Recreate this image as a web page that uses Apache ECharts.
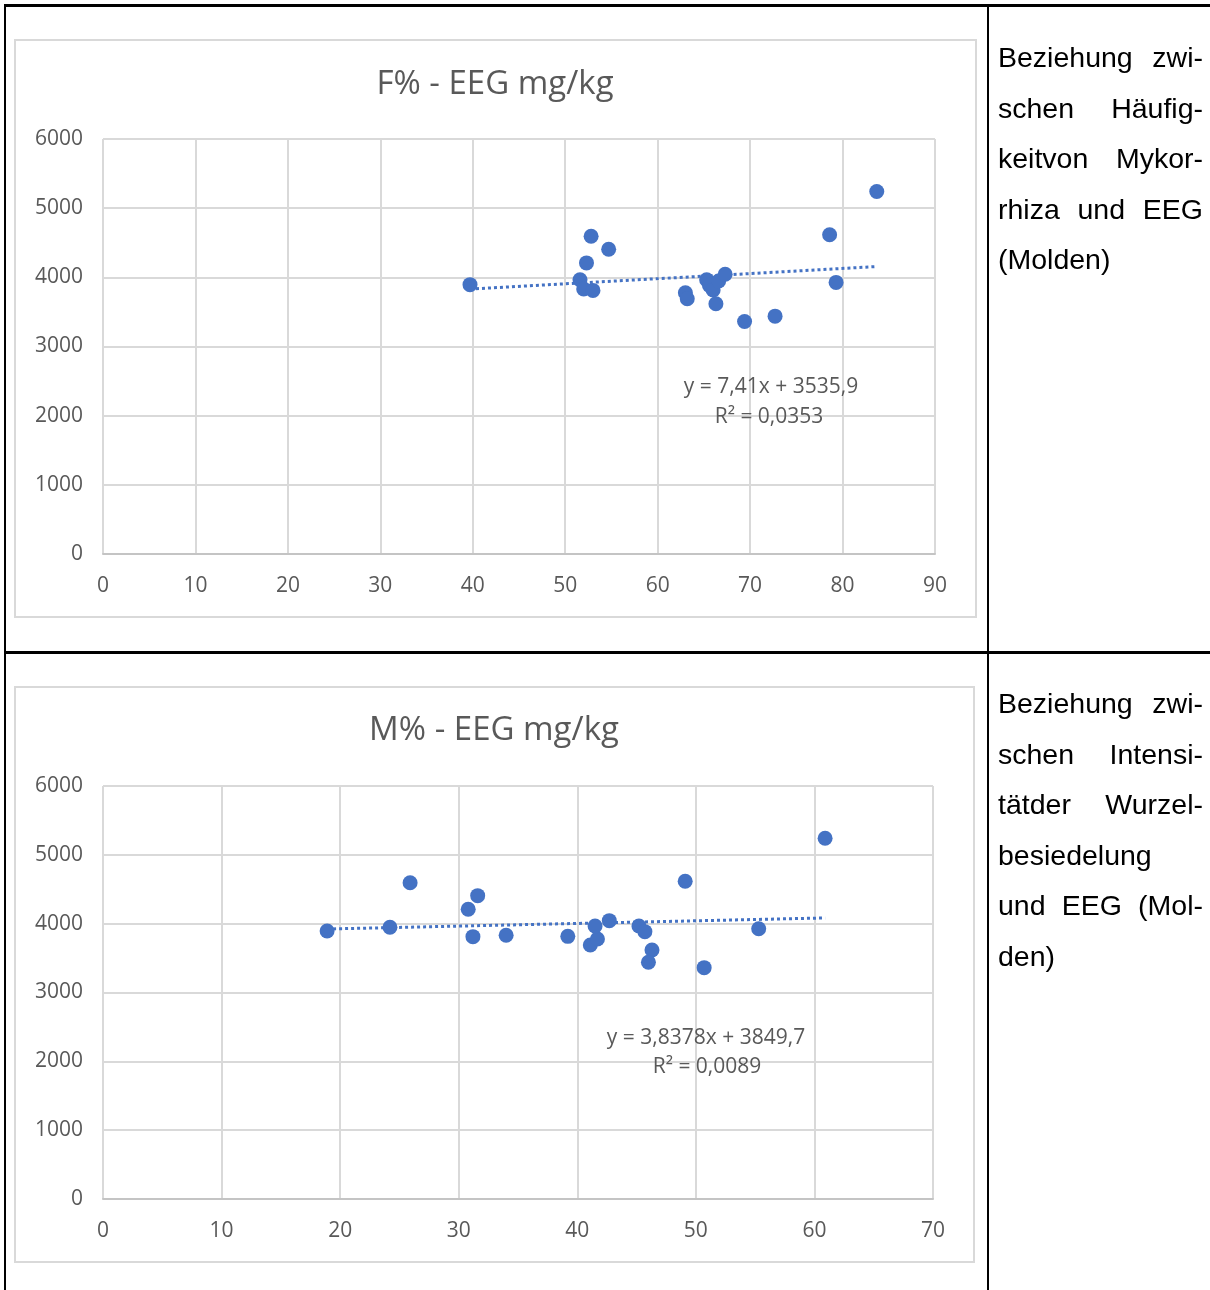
<!DOCTYPE html>
<html>
<head>
<meta charset="utf-8">
<script src="https://cdn.jsdelivr.net/npm/echarts@6/dist/echarts.min.js"></script>
<style>
html,body{margin:0;padding:0;background:#fff;}
#wrap{position:relative;width:1210px;height:1290px;overflow:hidden;}
#chart{position:absolute;left:0;top:0;width:1210px;height:1290px;}
.ln{position:absolute;background:#000;}
.txt{position:absolute;left:998px;width:205px;font-family:"Liberation Sans",Arial,sans-serif;font-size:28.5px;color:#000;}
.txt div{height:50.5px;line-height:50.5px;text-align:justify;text-align-last:justify;white-space:nowrap;}
.txt div.l{text-align:left;text-align-last:left;}
</style>
</head>
<body>
<div id="wrap">
<div id="chart"></div>
<div class="ln" style="left:4px;top:4px;width:1206px;height:3px;"></div>
<div class="ln" style="left:4px;top:4px;width:2px;height:1286px;"></div>
<div class="ln" style="left:987px;top:4px;width:2px;height:1286px;"></div>
<div class="ln" style="left:4px;top:651px;width:1206px;height:3px;"></div>
<div class="txt" style="top:32px;">
<div>Beziehung zwi-</div>
<div>schen Häufig-</div>
<div>keitvon Mykor-</div>
<div>rhiza und EEG</div>
<div class="l">(Molden)</div>
</div>
<div class="txt" style="top:678px;">
<div>Beziehung zwi-</div>
<div>schen Intensi-</div>
<div>tätder Wurzel-</div>
<div class="l">besiedelung</div>
<div>und EEG (Mol-</div>
<div class="l">den)</div>
</div>
</div>
<script>
// ---- data ----
var titleTop = "F% - EEG mg/kg";
var titleBottom = "M% - EEG mg/kg";
var xTicksTop = [0, 10, 20, 30, 40, 50, 60, 70, 80, 90];
var xTicksBottom = [0, 10, 20, 30, 40, 50, 60, 70];
var yTicks = [0, 1000, 2000, 3000, 4000, 5000, 6000];
var fPercent = [39.7, 51.6, 52.0, 53.0, 52.3, 52.8, 54.7, 63.0, 63.2, 65.3, 65.6, 66.0, 66.6, 67.3, 66.3, 69.4, 72.7, 78.6, 79.3, 83.7];
var eegTop = [3894, 3966, 3831, 3811, 4209, 4595, 4407, 3777, 3690, 3966, 3884, 3816, 3947, 4044, 3618, 3361, 3439, 4616, 3927, 5240];
var mPercent = [18.9, 24.2, 25.9, 30.8, 31.6, 31.2, 34.0, 39.2, 41.1, 41.7, 41.5, 42.7, 45.2, 45.7, 46.3, 46.0, 49.1, 50.7, 55.3, 60.9];
var eegBottom = [3894, 3947, 4595, 4209, 4407, 3811, 3831, 3816, 3690, 3777, 3966, 4044, 3966, 3884, 3618, 3439, 4616, 3361, 3927, 5240];
var trendTop = {slope: 7.41, intercept: 3535.9};
var trendBottom = {slope: 3.8378, intercept: 3849.7};
var eqTop = ["y = 7,41x + 3535,9", "R² = 0,0353"];
var eqBottom = ["y = 3,8378x + 3849,7", "R² = 0,0089"];

// ---- build ----
function pairs(xs, ys){ return xs.map(function(x,i){ return [x, ys[i]]; }); }
function trend(xs, t){
  var lo = Math.min.apply(null, xs), hi = Math.max.apply(null, xs);
  return [[lo, t.slope*lo + t.intercept], [hi, t.slope*hi + t.intercept]];
}
var BLUE = '#4472C4', GREY = '#595959', GRID = '#d9d9d9';
var FONT = '"Open Sans", "Noto Sans", sans-serif';

function xAxis(idx, ticks){
  return {
    type: 'value', gridIndex: idx,
    min: ticks[0], max: ticks[ticks.length-1], interval: ticks[1]-ticks[0],
    axisLine: {show: true, lineStyle: {color: '#c4c4c4', width: 2}},
    axisTick: {show: false},
    splitLine: {show: true, lineStyle: {color: GRID, width: 2}},
    axisLabel: {color: GREY, fontSize: 21, fontFamily: FONT, margin: 22,
      formatter: function(v){ return String(v); }}
  };
}
function yAxis(idx){
  return {
    type: 'value', gridIndex: idx,
    min: yTicks[0], max: yTicks[yTicks.length-1], interval: yTicks[1]-yTicks[0],
    axisLine: {show: false}, axisTick: {show: false},
    splitLine: {show: true, lineStyle: {color: GRID, width: 2}},
    axisLabel: {color: GREY, fontSize: 21, fontFamily: FONT, margin: 20,
      formatter: function(v){ return String(v); }}
  };
}
function txt(x, y, s, size){
  return {type: 'text', x: x, y: y, z: 100,
    style: {text: s, fill: GREY, fontSize: size, fontFamily: FONT, align: 'center', verticalAlign: 'middle'}};
}

var chart = echarts.init(document.getElementById('chart'), null, {renderer: 'canvas'});
chart.setOption({
  animation: false,
  grid: [
    {left: 103, top: 139, width: 832, height: 415},
    {left: 103, top: 786, width: 830, height: 413}
  ],
  xAxis: [xAxis(0, xTicksTop), xAxis(1, xTicksBottom)],
  yAxis: [yAxis(0), yAxis(1)],
  series: [
    {type: 'line', xAxisIndex: 0, yAxisIndex: 0, data: trend(fPercent, trendTop), symbol: 'none', z: 2,
     lineStyle: {color: BLUE, width: 3, type: [3, 3]}},
    {type: 'scatter', xAxisIndex: 0, yAxisIndex: 0, data: pairs(fPercent, eegTop), symbolSize: 15, z: 3,
     itemStyle: {color: BLUE, opacity: 1}},
    {type: 'line', xAxisIndex: 1, yAxisIndex: 1, data: trend(mPercent, trendBottom), symbol: 'none', z: 2,
     lineStyle: {color: BLUE, width: 3, type: [3, 3]}},
    {type: 'scatter', xAxisIndex: 1, yAxisIndex: 1, data: pairs(mPercent, eegBottom), symbolSize: 15, z: 3,
     itemStyle: {color: BLUE, opacity: 1}}
  ],
  graphic: [
    {type: 'rect', shape: {x: 15, y: 40, width: 961, height: 577}, z: -10,
     style: {fill: 'none', stroke: '#d9d9d9', lineWidth: 2}},
    {type: 'rect', shape: {x: 15, y: 687, width: 959, height: 575}, z: -10,
     style: {fill: 'none', stroke: '#d9d9d9', lineWidth: 2}},
    txt(495, 85, titleTop, 33),
    txt(494, 731, titleBottom, 33),
    txt(771, 387, eqTop[0], 21),
    txt(769, 417, eqTop[1], 21),
    txt(706, 1038, eqBottom[0], 21),
    txt(707, 1067, eqBottom[1], 21)
  ]
});
</script>
</body>
</html>
